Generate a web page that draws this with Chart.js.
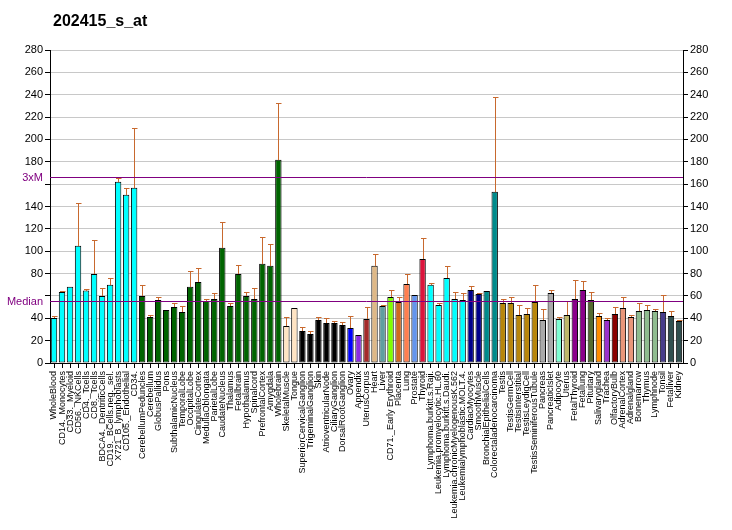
<!DOCTYPE html>
<html>
<head>
<meta charset="utf-8">
<script src="https://cdn.jsdelivr.net/npm/chart.js@4.4.0/dist/chart.umd.min.js"></script>
<style>
  html, body { margin: 0; padding: 0; background: #fff; }
  #wrap { width: 732px; height: 530px; position: relative; }
</style>
</head>
<body>
<div id="wrap"><canvas id="myChart" width="732" height="530"></canvas></div>
<script>
const chartTitle = '202415_s_at';

const labels = [
    'WholeBlood', 'CD14._Monocytes', 'CD33._Myeloid', 'CD56._NKCells', 'CD4._Tcells',
    'CD8._Tcells', 'BDCA4._DentriticCells', 'CD19._BCells.neg._sel.', 'X721_B_lymphoblasts', 'CD105._Endothelial',
    'CD34.', 'CerebellumPeduncles', 'Cerebellum', 'GlobusPallidus', 'Pons',
    'SubthalamicNucleus', 'TemporalLobe', 'OccipitalLobe', 'CingulateCortex', 'MedullaOblongata',
    'ParietalLobe', 'CaudateNucleus', 'Thalamus', 'Fetalbrain', 'Hypothalamus',
    'Spinalcord', 'PrefrontalCortex', 'Amygdala', 'Wholebrain', 'SkeletalMuscle',
    'Tongue', 'SuperiorCervicalGanglion', 'TrigeminalGanglion', 'Skin', 'AtrioventricularNode',
    'CiliaryGanglion', 'DorsalRootGanglion', 'Ovary', 'Appendix', 'UterusCorpus',
    'Heart', 'Liver', 'CD71._Early Erythroid', 'Placenta', 'Lung',
    'Prostate', 'Thyroid', 'Lymphoma.burkitt.s.Raji.', 'Leukemia.promyelocytic.HL.60', 'Lymphoma.burkitt.s.Daudi.',
    'Leukemia.chronicMyelogenousK.562', 'Leukemialymphoblastic.MOLT.4.', 'CardiacMyocytes', 'SmoothMuscle', 'BronchialEpithelialCells',
    'Colorectaladenocarcinoma', 'Testis', 'TestisGermCell', 'TestisInterstitial', 'TestisLeydigCell',
    'TestisSeminiferousTubule', 'Pancreas', 'PancreaticIslet', 'Adipocyte', 'Uterus',
    'FetalThyroid', 'Fetallung', 'Pituitary', 'Salivarygland', 'Trachea',
    'OlfactoryBulb', 'AdrenalCortex', 'Adrenalgland', 'Bonemarrow', 'Thymus',
    'Lymphnode', 'Tonsil', 'Fetalliver', 'Kidney'
];

const values = [
    40.3, 63.6, 68.1, 104.8, 64.8, 79.7, 60.0, 69.9, 162.1, 150.4,
    156.7, 60.0, 41.2, 56.4, 47.5, 50.1, 45.7, 68.1, 72.5, 55.5,
    57.3, 103.0, 51.0, 79.7, 60.0, 57.3, 88.7, 86.9, 181.8, 33.1,
    49.3, 28.7, 26.0, 38.5, 35.8, 35.8, 34.0, 31.3, 25.1, 39.4,
    86.9, 51.0, 59.1, 54.6, 70.7, 60.9, 93.1, 69.9, 51.9, 76.1,
    57.3, 56.4, 65.4, 61.8, 64.5, 153.1, 53.7, 53.7, 43.0, 43.9,
    54.6, 38.5, 62.7, 39.4, 43.0, 57.3, 65.4, 56.4, 42.1, 38.5,
    43.9, 49.3, 41.2, 46.6, 47.5, 46.6, 45.7, 42.1, 37.6
];

// top of the error bar (null = no bar drawn)
const errTop = [
    42.1, 64.5, null, 143.3, 66.3, 110.1, 67.2, 76.1, 165.7, 156.7,
    210.4, 69.9, 43.0, 59.1, null, 53.7, 51.0, 82.4, 85.1, 57.3,
    62.7, 126.3, 53.7, 87.8, 63.6, 67.2, 112.8, 106.6, 232.8, 41.2,
    null, 32.2, 28.4, 41.2, 40.3, 37.6, 36.7, 42.1, null, 50.1,
    97.6, 51.9, 65.4, 59.1, 79.7, null, 111.9, 71.6, 53.7, 86.9,
    63.6, 62.7, 69.0, 62.7, null, 238.2, 57.3, 59.1, 51.9, 49.3,
    69.9, 48.4, 65.4, 41.2, 55.5, 74.3, 73.4, 63.6, 44.8, 40.3,
    50.1, 59.1, 43.0, 53.7, 51.9, 48.4, 60.9, 46.6, 38.5
];

const barColors = [
    '#00FFFF', '#00FFFF', '#00FFFF', '#00FFFF', '#00FFFF', '#00FFFF', '#00FFFF', '#00FFFF', '#00FFFF', '#00FFFF',
    '#00FFFF', '#006400', '#006400', '#006400', '#006400', '#006400', '#006400', '#006400', '#006400', '#006400',
    '#006400', '#006400', '#006400', '#006400', '#006400', '#006400', '#006400', '#006400', '#006400', '#FFE4C4',
    '#FFE4C4', '#000000', '#000000', '#000000', '#000000', '#000000', '#000000', '#0000FF', '#8A2BE2', '#A52A2A',
    '#DEB887', '#5F9EA0', '#7FFF00', '#D2691E', '#FF7F50', '#6495ED', '#DC143C', '#00FFFF', '#00FFFF', '#00FFFF',
    '#00FFFF', '#00FFFF', '#00008B', '#00008B', '#008B8B', '#008B8B', '#B8860B', '#B8860B', '#B8860B', '#B8860B',
    '#B8860B', '#A9A9A9', '#A9A9A9', '#7FFFD4', '#BDB76B', '#8B008B', '#8B008B', '#556B2F', '#FF8C00', '#9932CC',
    '#8B0000', '#E9967A', '#E9967A', '#8FBC8F', '#8FBC8F', '#8FBC8F', '#483D8B', '#2F4F4F', '#2F4F4F'
];

const medianValue = 55.3;
const threeXM = 166.2;
const yTicksHiddenLeft = [160, 60];

const FONT = 'Arial, "Liberation Sans", sans-serif';

const errorBars = {
    id: 'errorBars',
    afterDatasetsDraw(chart) {
        const c = chart.ctx;
        const meta = chart.getDatasetMeta(0);
        const y = chart.scales.y;
        c.save();
        c.strokeStyle = '#C8692E';
        c.lineWidth = 1;
        meta.data.forEach((bar, i) => {
            if (errTop[i] == null) return;
            const x = Math.round(bar.x) + 0.5;
            const yt = Math.round(y.getPixelForValue(errTop[i])) + 0.5;
            const yb = Math.round(bar.y);
            c.beginPath();
            c.moveTo(x, yb);
            c.lineTo(x, yt);
            c.moveTo(x - 2.5, yt);
            c.lineTo(x + 3, yt);
            c.stroke();
        });
        c.restore();
    }
};

const refLines = {
    id: 'refLines',
    afterDatasetsDraw(chart) {
        const c = chart.ctx;
        const area = chart.chartArea;
        const y = chart.scales.y;
        c.save();
        c.strokeStyle = '#800080';
        c.lineWidth = 1;
        c.fillStyle = '#800080';
        c.font = '11px ' + FONT;
        c.textAlign = 'right';
        c.textBaseline = 'middle';
        [[medianValue, 'Median'], [threeXM, '3xM']].forEach(([v, txt]) => {
            const py = Math.round(y.getPixelForValue(v)) + 0.5;
            c.beginPath();
            c.moveTo(area.left, py);
            c.lineTo(area.right, py);
            c.stroke();
            c.fillText(txt, area.left - 7, py);
        });
        c.restore();
    }
};

const titleText = {
    id: 'titleText',
    afterDraw(chart) {
        const c = chart.ctx;
        c.save();
        c.fillStyle = '#000';
        c.font = 'bold 16px ' + FONT;
        c.textAlign = 'left';
        c.textBaseline = 'alphabetic';
        c.fillText(chartTitle, 53, 26);
        c.restore();
    }
};

const ctx = document.getElementById('myChart').getContext('2d');

const chart = new Chart(ctx, {
    type: 'bar',
    data: {
        labels: labels,
        datasets: [
            {
                data: values,
                backgroundColor: barColors,
                borderColor: '#000',
                borderWidth: 1,
                borderSkipped: false,
                barPercentage: 0.8,
                categoryPercentage: 1.0
            }
        ]
    },
    options: {
        responsive: false,
        animation: false,
        layout: {
            padding: { top: 50, left: 0, right: 0, bottom: 0 }
        },
        scales: {
            x: {
                offset: true,
                grid: {
                    offset: false,
                    drawOnChartArea: false,
                    color: '#000',
                    tickLength: 5
                },
                border: { color: '#000', width: 1 },
                ticks: {
                    autoSkip: false,
                    maxRotation: 90,
                    minRotation: 90,
                    padding: 3,
                    color: '#000',
                    font: { family: FONT, size: 9 }
                },
                afterFit(scale) { scale.height = 167; }
            },
            y: {
                position: 'left',
                min: 0,
                max: 280,
                ticks: {
                    stepSize: 20,
                    color: '#000',
                    padding: 2,
                    font: { family: FONT, size: 11 },
                    callback: (v) => yTicksHiddenLeft.includes(v) ? '' : v
                },
                grid: {
                    color: '#C8C8C8',
                    tickColor: '#000',
                    tickLength: 5
                },
                border: { color: '#000', width: 1 },
                afterFit(scale) { scale.width = 50; }
            },
            y2: {
                position: 'right',
                min: 0,
                max: 280,
                ticks: {
                    stepSize: 20,
                    color: '#000',
                    padding: 2,
                    font: { family: FONT, size: 11 }
                },
                grid: {
                    drawOnChartArea: false,
                    color: '#000',
                    tickLength: 5
                },
                border: { color: '#000', width: 1 },
                afterFit(scale) { scale.width = 49; }
            }
        },
        plugins: {
            legend: { display: false },
            tooltip: { enabled: false }
        }
    },
    plugins: [errorBars, refLines, titleText]
});
</script>
</body>
</html>
